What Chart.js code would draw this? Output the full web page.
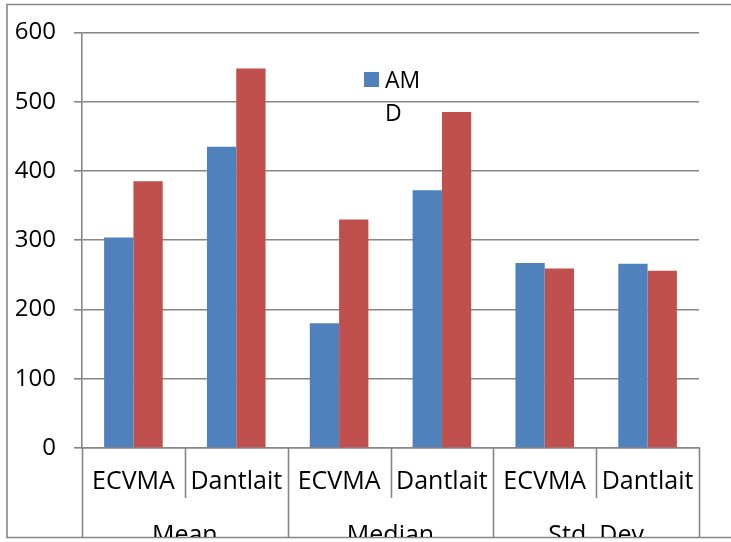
<!DOCTYPE html>
<html>
<head>
<meta charset="utf-8">
<script src="https://cdn.jsdelivr.net/npm/chart.js@4/dist/chart.umd.min.js"></script>
<style>
  html, body { margin: 0; padding: 0; background: #ffffff; }
  #wrap { width: 731px; height: 542px; }
</style>
</head>
<body>
<div id="wrap"><canvas id="chart" width="731" height="542"></canvas></div>
<script>
// Sub-categories along the x axis and the statistic each pair belongs to
const categories = ['ECVMA', 'Dantlait', 'ECVMA', 'Dantlait', 'ECVMA', 'Dantlait'];
const groups = ['Mean', 'Median', 'Std. Dev'];

// Series values
const amValues = [304, 435, 180, 372, 267, 266];
const dValues = [385, 548, 330, 485, 259, 256];

// Y axis ticks
const yTicks = [0, 100, 200, 300, 400, 500, 600];

// Legend text (one entry whose label wraps to two lines)
const legendLines = ['AM', 'D'];

const FONT = 'Open Sans';
const LINE = '#868686';
const BLUE = '#4f81bd';
const RED = '#c0504d';

// Frame, category separators, group labels and legend
const decorations = {
  id: 'decorations',
  afterDraw(chart) {
    const ctx = chart.ctx;
    const xs = chart.scales.x;
    const area = chart.chartArea;
    const n = categories.length;
    const step = (xs.right - xs.left) / n;
    const frameBottom = 537.5;

    ctx.save();
    ctx.strokeStyle = LINE;
    ctx.lineWidth = 1.6;

    // outer frame (left, top, bottom edges)
    ctx.beginPath();
    ctx.moveTo(731, 4.5);
    ctx.lineTo(7, 4.5);
    ctx.lineTo(7, frameBottom);
    ctx.lineTo(731, frameBottom);
    ctx.stroke();

    // category boundaries below the axis
    for (let i = 0; i <= n; i++) {
      const x = Math.round(xs.getPixelForTick(Math.min(i, n - 1)) + (i === n ? step / 2 : -step / 2)) + 0.5;
      const isGroupEdge = i % 2 === 0;
      ctx.beginPath();
      ctx.moveTo(x, area.bottom);
      ctx.lineTo(x, isGroupEdge ? frameBottom : 498);
      ctx.stroke();
    }

    // group labels, clipped by the frame
    ctx.beginPath();
    ctx.rect(0, 0, 731, frameBottom - 0.5);
    ctx.clip();
    ctx.fillStyle = '#000000';
    ctx.font = '25px "' + FONT + '"';
    ctx.textAlign = 'center';
    ctx.textBaseline = 'middle';
    groups.forEach((g, gi) => {
      const cx = (xs.getPixelForTick(gi * 2) + xs.getPixelForTick(gi * 2 + 1)) / 2;
      ctx.fillText(g, cx, 536);
    });
    ctx.restore();

    // legend
    ctx.save();
    ctx.fillStyle = chart.data.datasets[0].backgroundColor;
    ctx.fillRect(364, 72, 15, 15);
    ctx.fillStyle = '#000000';
    ctx.font = '23px "' + FONT + '"';
    ctx.textAlign = 'left';
    ctx.textBaseline = 'alphabetic';
    legendLines.forEach((t, i) => ctx.fillText(t, 385, 88 + i * 33));
    ctx.restore();
  }
};

new Chart(document.getElementById('chart'), {
  type: 'bar',
  data: {
    labels: categories,
    datasets: [
      { label: 'AM', data: amValues, backgroundColor: BLUE, categoryPercentage: 0.57, barPercentage: 1.0 },
      { label: 'D', data: dValues, backgroundColor: RED, categoryPercentage: 0.57, barPercentage: 1.0 }
    ]
  },
  options: {
    responsive: false,
    animation: false,
    layout: { padding: { left: 0, top: 28, right: 32, bottom: 0 } },
    plugins: {
      legend: { display: false },
      tooltip: { enabled: false }
    },
    scales: {
      x: {
        afterFit(scale) { scale.height = 94; },
        grid: { display: false, drawTicks: false },
        border: { display: true, color: LINE, width: 1.6 },
        ticks: {
          color: '#000000',
          font: { family: FONT, size: 25 },
          padding: 19,
          autoSkip: false,
          maxRotation: 0,
          minRotation: 0
        }
      },
      y: {
        min: 0,
        max: 600,
        afterFit(scale) { scale.width = 82; },
        afterBuildTicks(scale) { scale.ticks = yTicks.map(v => ({ value: v })); },
        grid: { color: LINE, lineWidth: 1.6, tickLength: 8, drawTicks: true },
        border: { display: true, color: LINE, width: 1.6 },
        ticks: {
          color: '#000000',
          font: { family: FONT, size: 24 },
          padding: 18
        }
      }
    }
  },
  plugins: [decorations]
});
</script>
</body>
</html>
